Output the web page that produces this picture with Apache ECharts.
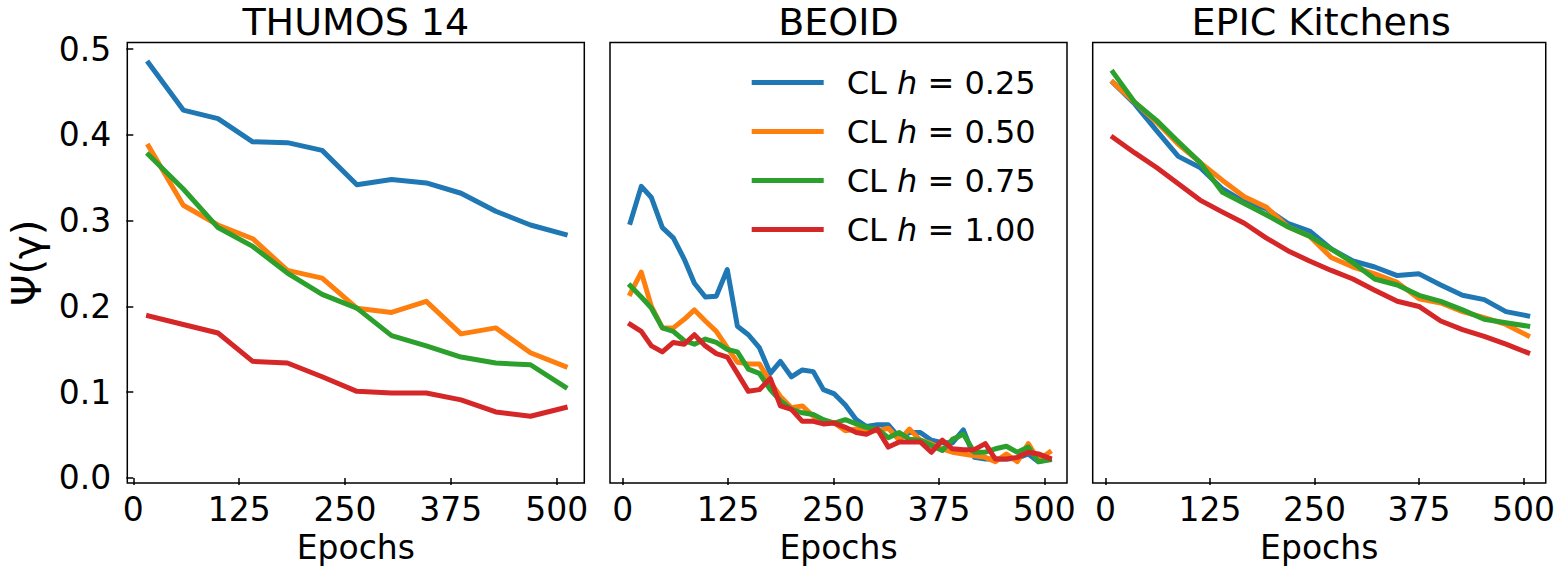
<!DOCTYPE html>
<html>
<head>
<meta charset="utf-8">
<script src="https://cdn.jsdelivr.net/npm/echarts@6/dist/echarts.min.js"></script>
<style>
html, body { margin: 0; padding: 0; background: #fff; }
#chart { width: 1558px; height: 569px; }
</style>
</head>
<body>
<div id="chart"></div>
<script>
// values
const panelTitles = ['THUMOS 14', 'BEOID', 'EPIC Kitchens']
const seriesNames = ['0.25', '0.50', '0.75', '1.00']
const colors = ['#1f77b4', '#ff7f0e', '#2ca02c', '#d62728']
const xTicks = [0, 125, 250, 375, 500]
const yTicks = [0, 0.1, 0.2, 0.3, 0.4, 0.5]

const thumosEpochs = [18, 59, 100, 141, 182, 223, 264, 305, 346, 387, 428, 469, 510]
const thumos025 = [0.484, 0.429, 0.419, 0.392, 0.391, 0.382, 0.342, 0.348, 0.344, 0.332, 0.311, 0.295, 0.284]
const thumos050 = [0.387, 0.318, 0.295, 0.279, 0.242, 0.233, 0.198, 0.193, 0.206, 0.168, 0.175, 0.146, 0.130]
const thumos075 = [0.377, 0.337, 0.292, 0.270, 0.239, 0.214, 0.198, 0.166, 0.154, 0.141, 0.134, 0.132, 0.106]
const thumos100 = [0.189, 0.179, 0.169, 0.136, 0.134, 0.118, 0.101, 0.099, 0.099, 0.091, 0.077, 0.072, 0.082]

const beoidEpochs = [9, 22, 34, 47, 60, 73, 85, 98, 111, 124, 136, 149, 162, 175, 187, 200, 213, 226, 238, 251,
  264, 277, 289, 302, 315, 328, 340, 353, 366, 379, 391, 404, 417, 430, 442, 455, 468, 481, 493, 506]
const beoid025 = [0.298, 0.340, 0.327, 0.292, 0.280, 0.255, 0.227, 0.211, 0.212, 0.243, 0.177, 0.167, 0.152, 0.122, 0.136, 0.118, 0.126, 0.124, 0.103, 0.098,
  0.085, 0.068, 0.060, 0.062, 0.062, 0.047, 0.053, 0.053, 0.044, 0.041, 0.041, 0.056, 0.024, 0.022, 0.022, 0.022, 0.023, 0.028, 0.019, 0.022]
const beoid050 = [0.215, 0.240, 0.200, 0.175, 0.175, 0.185, 0.196, 0.183, 0.171, 0.152, 0.135, 0.133, 0.133, 0.112, 0.095, 0.082, 0.084, 0.072, 0.066, 0.064,
  0.055, 0.057, 0.055, 0.055, 0.058, 0.044, 0.057, 0.044, 0.040, 0.034, 0.030, 0.028, 0.026, 0.024, 0.019, 0.028, 0.019, 0.040, 0.021, 0.030]
const beoid075 = [0.224, 0.211, 0.198, 0.175, 0.171, 0.160, 0.156, 0.162, 0.158, 0.150, 0.147, 0.127, 0.122, 0.103, 0.090, 0.080, 0.076, 0.074, 0.068, 0.064,
  0.068, 0.063, 0.059, 0.057, 0.047, 0.053, 0.045, 0.044, 0.038, 0.032, 0.045, 0.051, 0.030, 0.030, 0.034, 0.037, 0.030, 0.036, 0.019, 0.021]
const beoid100 = [0.179, 0.171, 0.154, 0.147, 0.158, 0.156, 0.167, 0.154, 0.145, 0.141, 0.122, 0.101, 0.103, 0.116, 0.084, 0.080, 0.066, 0.066, 0.063, 0.064,
  0.059, 0.053, 0.051, 0.057, 0.036, 0.042, 0.042, 0.042, 0.030, 0.044, 0.034, 0.033, 0.033, 0.040, 0.022, 0.022, 0.024, 0.030, 0.028, 0.023]

const epicEpochs = [9, 35, 61, 87, 113, 140, 166, 192, 218, 244, 270, 296, 322, 349, 375, 401, 427, 453, 479, 505]
const epic025 = [0.461, 0.436, 0.405, 0.375, 0.362, 0.337, 0.322, 0.314, 0.297, 0.288, 0.267, 0.253, 0.246, 0.236, 0.238, 0.225, 0.213, 0.208, 0.194, 0.189]
const epic050 = [0.461, 0.438, 0.415, 0.389, 0.368, 0.347, 0.328, 0.316, 0.293, 0.282, 0.257, 0.246, 0.238, 0.228, 0.209, 0.204, 0.194, 0.187, 0.179, 0.166]
const epic075 = [0.473, 0.438, 0.417, 0.392, 0.368, 0.333, 0.320, 0.307, 0.293, 0.282, 0.267, 0.251, 0.232, 0.225, 0.213, 0.206, 0.196, 0.185, 0.181, 0.177]
const epic100 = [0.397, 0.379, 0.362, 0.343, 0.324, 0.310, 0.297, 0.280, 0.265, 0.253, 0.242, 0.232, 0.219, 0.206, 0.200, 0.183, 0.173, 0.165, 0.156, 0.146]

const panels = [
  { epochs: thumosEpochs, lines: [thumos025, thumos050, thumos075, thumos100] },
  { epochs: beoidEpochs, lines: [beoid025, beoid050, beoid075, beoid100] },
  { epochs: epicEpochs, lines: [epic025, epic050, epic075, epic100] }
]

// layout
const FONT = 'DejaVu Sans'
const gridLefts = [127.3, 610, 1092.7]
const gridTop = 42.5
const gridW = 457
const gridH = 449
const xRanges = [[-7.1, 532.6], [-15.1, 526.9], [-15.4, 526.6]]

const chart = echarts.init(document.getElementById('chart'), null, { renderer: 'svg' })

const grid = gridLefts.map(left => ({
  left: left, top: gridTop, width: gridW, height: gridH,
  show: true, borderColor: '#000', borderWidth: 1.5, backgroundColor: 'transparent'
}))

const xAxis = gridLefts.map((_, i) => ({
  type: 'value',
  gridIndex: i,
  min: xRanges[i][0],
  max: xRanges[i][1],
  axisLine: { show: false },
  splitLine: { show: false },
  axisTick: { show: true, customValues: xTicks, length: 7, lineStyle: { color: '#000', width: 1.5 } },
  axisLabel: { customValues: xTicks, margin: 10, fontSize: 33, color: '#000', fontFamily: FONT },
  name: 'Epochs',
  nameLocation: 'middle',
  nameGap: 42,
  nameTextStyle: { fontSize: 33, color: '#000', fontFamily: FONT }
}))

const yAxis = gridLefts.map((_, i) => ({
  type: 'value',
  gridIndex: i,
  min: -0.006,
  max: 0.5078,
  axisLine: { show: false },
  splitLine: { show: false },
  axisTick: { show: i === 0, customValues: yTicks, length: 7, lineStyle: { color: '#000', width: 1.5 } },
  axisLabel: {
    show: i === 0, customValues: yTicks, margin: 16, fontSize: 33, color: '#000', fontFamily: FONT,
    formatter: v => v.toFixed(1)
  },
  name: i === 0 ? 'Ψ(γ)' : '',
  nameLocation: 'middle',
  nameRotate: 90,
  nameGap: 80,
  nameTextStyle: { fontSize: 40, color: '#000', fontFamily: FONT }
}))

const series = []
panels.forEach((p, i) => {
  p.lines.forEach((vals, k) => {
    series.push({
      name: seriesNames[k],
      type: 'line',
      xAxisIndex: i,
      yAxisIndex: i,
      data: p.epochs.map((x, j) => [x, vals[j]]),
      showSymbol: false,
      symbol: 'none',
      silent: true,
      lineStyle: { color: colors[k], width: 5, join: 'round', cap: 'square' },
      itemStyle: { color: colors[k] }
    })
  })
})

const titles = panelTitles.map((t, i) => ({
  type: 'text',
  x: gridLefts[i] + gridW / 2,
  y: 21.5,
  style: {
    text: t, fill: '#000', fontSize: 38, fontFamily: FONT,
    textAlign: 'center', textVerticalAlign: 'middle'
  }
}))

chart.setOption({
  animation: false,
  backgroundColor: '#fff',
  grid: grid,
  xAxis: xAxis,
  yAxis: yAxis,
  series: series,
  graphic: titles,
  legend: {
    orient: 'vertical',
    left: 751.7,
    top: 66,
    padding: 0,
    selectedMode: false,
    icon: 'rect',
    itemWidth: 72,
    itemHeight: 5,
    itemGap: 16,
    data: seriesNames,
    formatter: name => 'CL {it|h} = ' + name,
    textStyle: {
      fontSize: 32, lineHeight: 33, color: '#000', fontFamily: FONT,
      padding: [0, 0, 0, 18],
      rich: {
        it: { fontSize: 32, lineHeight: 33, fontStyle: 'italic', color: '#000', fontFamily: FONT }
      }
    }
  }
})
</script>
</body>
</html>
